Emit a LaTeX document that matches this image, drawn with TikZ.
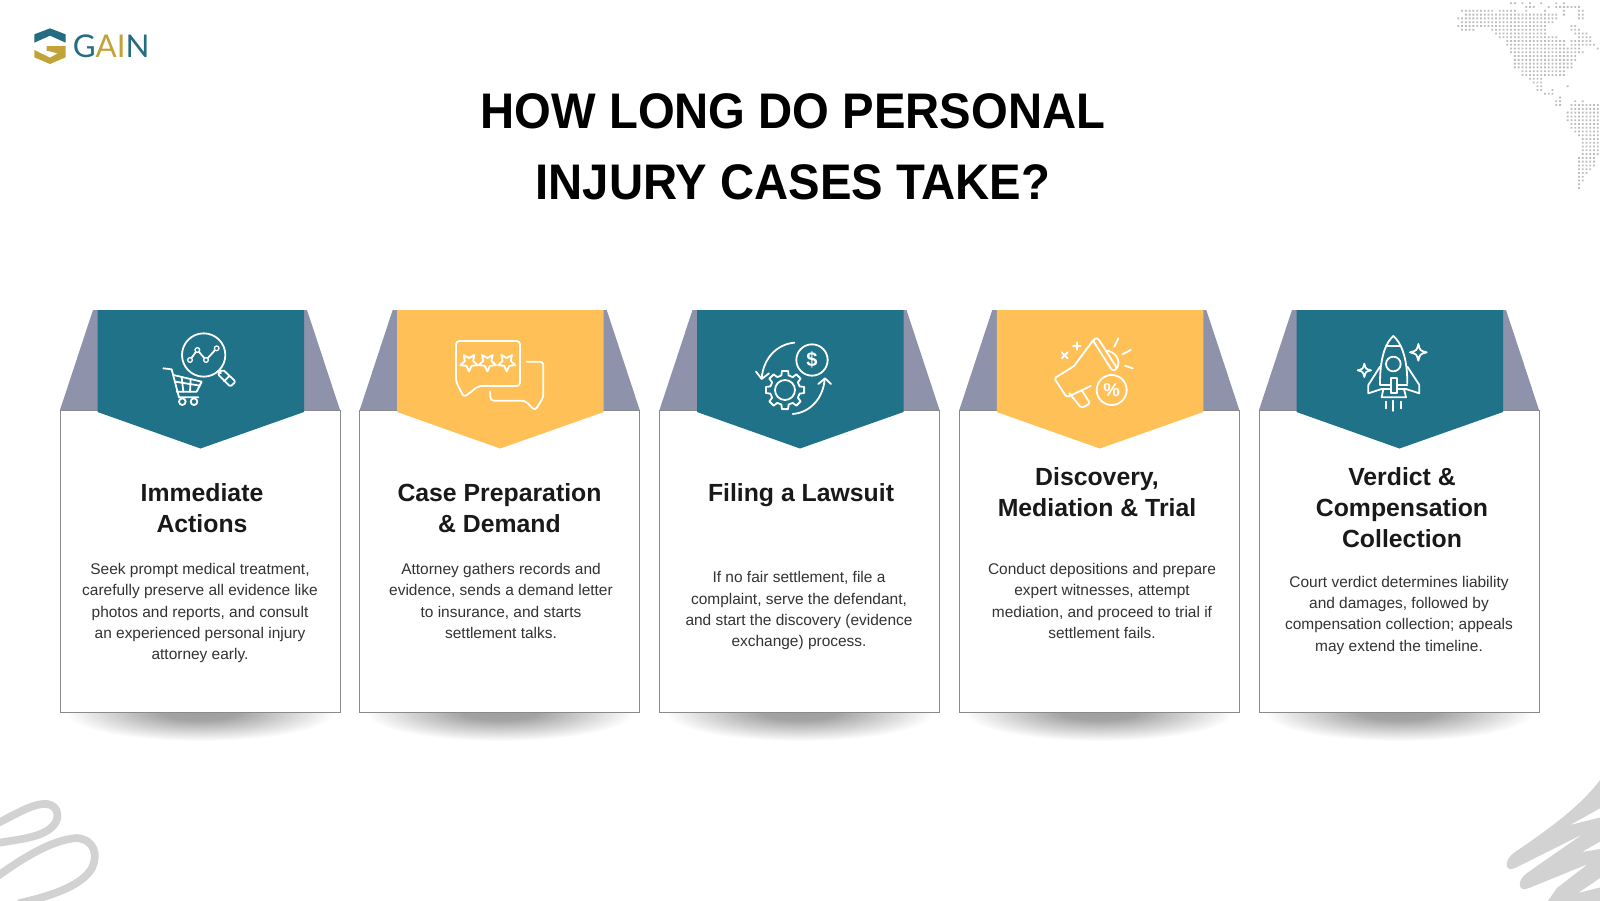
\documentclass[tikz,border=0pt]{standalone}
\usepackage{fontspec}
\setmainfont{Liberation Sans}
\newfontfamily\titlef[FakeStretch=0.945]{Liberation Sans}
\newfontfamily\logof{Lato}
\definecolor{teal}{HTML}{1F7287}
\definecolor{amber}{HTML}{FFC057}
\definecolor{slate}{HTML}{8F92AB}
\definecolor{logoteal}{HTML}{236C82}
\definecolor{logogold}{HTML}{C2A339}
\definecolor{scrib}{HTML}{D2D2D2}
\definecolor{mapdot}{HTML}{BDBDBD}
\definecolor{cardline}{HTML}{8A8A8A}
\definecolor{bodyc}{HTML}{333333}
\pgfdeclareradialshading{cardshadow}{\pgfpoint{0bp}{0bp}}{color(0bp)=(black!38); color(7bp)=(black!36); color(25bp)=(white); color(50bp)=(white)}
\tikzset{
  maintitle/.style={font=\fontsize{37.5}{53}\selectfont\titlef\bfseries,align=center,inner sep=0,text=black},
  cardhead/.style={font=\fontsize{18.6}{23}\selectfont\bfseries,align=center,inner sep=0,text=black!90},
  cardbody/.style={font=\fontsize{11.6}{15.9}\selectfont,align=center,inner sep=0,text=bodyc},
  cardbox/.style={fill=white,draw=cardline,line width=.6pt},
  wing/.style={fill=slate},
  ico/.style={draw=white,line width=1.35pt,line cap=round,line join=round},
  zoomed/.style={x=0.25pt,y=-0.25pt},
  scribble/.style={draw=scrib,line width=5.8pt,line cap=round},
}
\newcommand{\sparkle}[2]{(#1)++(0,-#2) .. controls +(#2*.2,#2*.8) and +(-#2*.8,-#2*.2) .. ++(#2,#2) .. controls +(-#2*.8,#2*.2) and +(#2*.2,-#2*.8) .. ++(-#2,#2) .. controls +(-#2*.2,-#2*.8) and +(#2*.8,#2*.2) .. ++(-#2,-#2) .. controls +(#2*.8,-#2*.2) and +(-#2*.2,#2*.8) .. ++(#2,-#2) -- cycle}
\begin{document}
\begin{tikzpicture}[x=0.75pt,y=-0.75pt]
\useasboundingbox (0,0) rectangle (1600,900);
\fill[white] (0,0) rectangle (1600,900);

% cards
\foreach \L/\C in {60/teal,359.7/amber,659.5/teal,959.3/amber,1259/teal}{
  \shade[shading=cardshadow] (\L+140,712) ellipse [x radius=135,y radius=29];
  \fill[wing] (\L+33,310) -- (\L+247,310) -- (\L+280,410) -- (\L,410) -- cycle;
  \draw[cardbox] (\L,410) rectangle (\L+280,712);
  \fill[\C] (\L+37.5,310) -- (\L+244,310) -- (\L+244,412) -- (\L+140.5,448.5) -- (\L+37.5,412) -- cycle;
}

% title
\node[maintitle] (title) at (793,147) {HOW LONG DO PERSONAL\\INJURY CASES TAKE?};

% headings
\node[cardhead] (h1) at (202,508) {Immediate\\Actions};
\node[cardhead] (h2) at (499.5,508) {Case Preparation\\\& Demand};
\node[cardhead] (h3) at (801,495) {Filing a Lawsuit};
\node[cardhead] (h4) at (1097,492) {Discovery,\\Mediation \& Trial};
\node[cardhead] (h5) at (1402,507.5) {Verdict \&\\Compensation\\Collection};

% bodies
\node[cardbody] (b1) at (200,613) {Seek prompt medical treatment,\\carefully preserve all evidence like\\photos and reports, and consult\\an experienced personal injury\\attorney early.};
\node[cardbody] (b2) at (501,601) {Attorney gathers records and\\evidence, sends a demand letter\\to insurance, and starts\\settlement talks.};
\node[cardbody] (b3) at (799,610.7) {If no fair settlement, file a\\complaint, serve the defendant,\\and start the discovery (evidence\\exchange) process.};
\node[cardbody] (b4) at (1102,601) {Conduct depositions and prepare\\expert witnesses, attempt\\mediation, and proceed to trial if\\settlement fails.};
\node[cardbody] (b5) at (1399,615.3) {Court verdict determines liability\\and damages, followed by\\compensation collection; appeals\\may extend the timeline.};

% logo
\begin{scope}[shift={(25,20)},zoomed]
  \fill[logoteal] (28,43) -- (75,25) -- (122,43) -- (122,68) -- (75,47) -- (28,68) -- cycle;
  \fill[logogold] (28,90) -- (75,113) -- (98,100) -- (65,92) -- (65,78) -- (122,78) -- (122,112) -- (75,132) -- (28,112) -- cycle;
\end{scope}
\node[anchor=base west,inner sep=0,font=\fontsize{23.5}{26}\selectfont\logof] (logotext) at (72.5,57)
  {\textcolor{logoteal}{G}\textcolor{logogold}{AI}\textcolor{logoteal}{N}};

% icon 1: cart and magnifier
\begin{scope}[shift={(50,300)},zoomed]
  \draw[ico] (461,165) circle [radius=65];
  \draw[ico] (420,180) -- (442,150) -- (468,180) -- (500,145);
  \foreach \p in {(420,180),(442,150),(468,180),(500,145)} \filldraw[ico,fill=teal,line width=1pt] \p circle [radius=7];
  \draw[ico] (505,212) -- (513,220);
  \draw[ico,rounded corners=1.5pt] (503,222) -- (518,208) -- (557,245) -- (541,260) -- cycle;
  \draw[ico] (522,244) -- (538,228);
  \draw[ico] (340,205) -- (365,208) -- (387,292) -- (445,292);
  \draw[ico] (370,225) -- (455,245) -- (440,275) -- (380,275);
  \draw[ico] (376,245) -- (450,257);
  \draw[ico] (395,232) -- (400,275) (422,238) -- (420,275);
  \draw[ico] (397,305) circle [radius=10] (432,305) circle [radius=10];
\end{scope}

% icon 2: review bubbles
\begin{scope}[shift={(400,310)},zoomed]
  \draw[ico,rounded corners=2.5pt] (168,93) -- (360,93) -- (360,228) -- (235,228) -- (192,262) -- (168,215) -- cycle;
  \draw[ico,rounded corners=2.5pt] (380,155) -- (430,155) -- (430,262) -- (405,302) -- (375,272) -- (272,272) -- (270,245);
  \foreach \c in {207,262,320}{
    \begin{scope}[shift={(\c,157)}]
      \draw[ico,line width=1.4pt] (90:27) -- (126:13) -- (162:27) -- (198:13) -- (234:27) -- (270:13) -- (306:27) -- (342:13) -- (18:27) -- (54:13) -- cycle;
    \end{scope}
  }
\end{scope}

% icon 3: gear and dollar
\begin{scope}[shift={(400,310)},zoomed]
  \draw[ico] (1236,150) circle [radius=47];
  \node[text=white,font=\fontsize{15}{15}\selectfont\bfseries,inner sep=0] (dollar) at (1236,150) {\$};
  \draw[ico] (1155,240) circle [radius=30];
  \begin{scope}[shift={(1155,240)}]
    \draw[ico] (-14:45) \foreach \a in {0,45,...,315}{ -- (\a-14:45) -- (\a-9:58) -- (\a+9:58) -- (\a+14:45) } -- cycle;
  \end{scope}
  \draw[ico] (1183,98) .. controls (1130,103) and (1090,145) .. (1085,205);
  \draw[ico] (1068,185) -- (1085,207) -- (1107,190);
  \draw[ico] (1178,312) .. controls (1230,308) and (1270,265) .. (1274,207);
  \draw[ico] (1255,222) -- (1275,205) -- (1293,222);
\end{scope}

% icon 4: megaphone
\begin{scope}[shift={(1000,310)},zoomed]
  \draw[ico,rounded corners=1.5pt] (222,168) -- (163,205) -- (200,262) -- (272,228);
  \draw[ico] (222,168) -- (280,90);
  \draw[ico,rounded corners=2pt] (278,90) -- (292,82) -- (352,176) -- (338,184) -- cycle;
  \draw[ico] (320,122) .. controls (345,125) and (365,150) .. (350,176);
  \draw[ico,rounded corners=1.5pt] (208,250) -- (245,295) -- (270,280) -- (245,240);
  \draw[ico] (335,240) circle [radius=45];
  \node[text=white,font=\fontsize{14}{14}\selectfont\bfseries,inner sep=0] (percent) at (335,240) {\%};
  \draw[ico] (230,97) -- (230,119) (219,108) -- (241,108);
  \draw[ico] (185,127) -- (203,145) (185,145) -- (203,127);
  \draw[ico] (355,85) -- (343,110) (392,120) -- (367,133) (398,175) -- (375,167);
\end{scope}

% icon 5: rocket
\begin{scope}[shift={(1000,310)},zoomed]
  \draw[ico] (1180,78) .. controls (1200,95) and (1222,135) .. (1222,220);
  \draw[ico] (1180,78) .. controls (1160,95) and (1140,135) .. (1140,220) -- (1140,225) -- (1222,225);
  \draw[ico] (1158,108) -- (1202,108);
  \draw[ico] (1180,162) circle [radius=22];
  \draw[ico] (1140,170) -- (1105,225) -- (1105,250) -- (1145,237) -- (1218,237) -- (1258,250) -- (1258,225) -- (1222,170);
  \draw[ico] (1150,237) -- (1145,262) -- (1218,262) -- (1212,237);
  \draw[ico,fill=teal] (1172,205) rectangle (1190,250);
  \draw[ico] (1158,275) -- (1158,295) (1180,272) -- (1180,303) (1203,275) -- (1203,295);
  \draw[ico] \sparkle{1255,127}{25};
  \draw[ico] \sparkle{1093,181}{20};
\end{scope}

% dotted map
\fill[mapdot] \foreach \r/\a/\b in {
 0/14/15,0/17/17,0/19/19,0/22/22,0/26/26,0/28/28,
 1/18/20,1/24/24,1/26/32,
 2/1/9,2/11/15,2/18/18,2/23/23,2/28/28,2/32/33,
 3/2/19,3/20/26,3/28/28,3/32/33,
 4/0/26,4/32/33,
 5/1/25,
 6/0/23,6/30/31,
 7/1/4,7/9/23,7/30/32,
 8/10/23,8/31/34,
 9/11/26,9/32/35,
 10/13/28,10/30/35,
 11/13/28,11/30/36,
 12/14/32,12/37/37,
 13/14/33,
 14/15/31,15/15/31,
 16/15/30,17/15/30,
 18/17/28,19/17/28,
 20/19/22,21/20/22,
 22/21/22,22/29/29,
 23/21/22,23/25/25,
 24/23/25,
 25/27/27,
 26/26/27,26/31/31,26/33/33,
 27/26/27,27/30/37,
 28/30/37,29/29/37,30/29/37,31/29/37,
 32/30/37,33/30/37,34/31/37,35/32/37,
 36/33/37,37/33/37,38/33/37,39/33/37,40/33/37,
 41/32/36,42/32/36,43/32/36,44/32/35,45/32/34,
 46/32/33,47/32/33,48/32/32,49/32/32}{
   \foreach \c in {\a,...,\b}{ (1457.4+3.77*\c,2.4+3.77*\r) rectangle ++(1.8,1.8) }
 };

% scribble bottom left
\draw[scribble] (-8,826) .. controls (15,815) and (32,803) .. (47,804) .. controls (60,806) and (60,820) .. (52,827) .. controls (40,838) and (20,839) .. (-8,844);
\draw[scribble] (-8,880) .. controls (20,860) and (50,840) .. (77,838) .. controls (95,840) and (98,855) .. (92,868) .. controls (82,885) and (55,895) .. (20,903);

% scribble bottom right
\fill[scrib] (1606,772) .. controls (1590,795) and (1570,815) .. (1515,852) .. controls (1503,860) and (1505,873) .. (1515,868) -- (1583,834) -- (1527,873) .. controls (1516,881) and (1518,893) .. (1529,888) -- (1588,864) -- (1557,888) -- (1545,905) -- (1606,905) -- (1606,886) -- (1578,893) -- (1606,874) -- (1606,848) -- (1582,852) -- (1606,838) -- (1606,816) -- (1570,825) -- (1606,805) -- cycle;
\end{tikzpicture}
\end{document}
